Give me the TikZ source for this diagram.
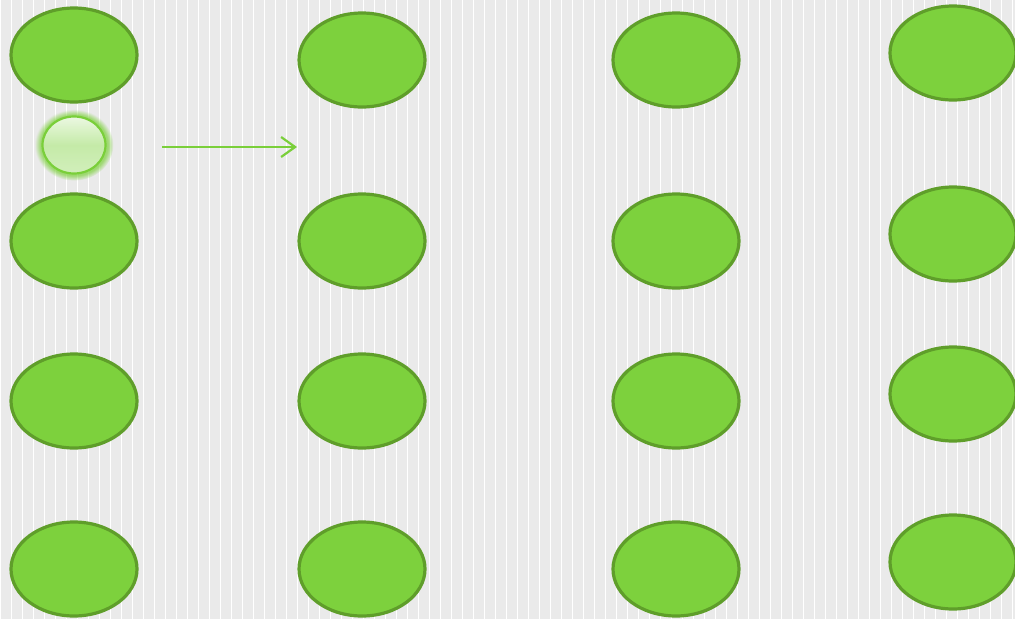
\documentclass[tikz,border=0pt]{standalone}
\usetikzlibrary{shapes.geometric,shadows,arrows.meta}
\definecolor{bggray}{HTML}{EAEAEA}
\definecolor{leaf}{HTML}{7DD13D}
\definecolor{leafdark}{HTML}{5F9E2A}
\definecolor{leaflight}{HTML}{7ACF3A}
\tikzset{
  blob/.style={ellipse,fill=leaf,draw=leafdark,line width=3.2pt,minimum width=126pt,minimum height=94pt,inner sep=0pt},
  bead/.style={ellipse,draw=leaflight,line width=2.2pt,minimum width=63pt,minimum height=57pt,inner sep=0pt,
    top color=leaf!15,bottom color=leaf!35,middle color=leaf!45,
    circular glow={fill=leaf,opacity=0.7}},
  flow/.style={-{Straight Barb[length=14pt,width=20pt,line width=2.2pt]},leaflight,line width=2pt}
}
\begin{document}
\begin{tikzpicture}[x=1pt,y=-1pt]
\useasboundingbox (0,0) rectangle (1015,619);
\clip (0,0) rectangle (1015,619);
\fill[bggray] (0,0) rectangle (1015,619);
\foreach \k in {0,...,92}
  \draw[white,line width=1.6pt] (0.5+11*\k,0) -- (0.5+11*\k,619);
\node[blob] (a1) at (74,55) {};
\node[blob] (a2) at (74,241) {};
\node[blob] (a3) at (74,401) {};
\node[blob] (a4) at (74,569) {};
\node[blob] (b1) at (362,60) {};
\node[blob] (b2) at (362,241) {};
\node[blob] (b3) at (362,401) {};
\node[blob] (b4) at (362,569) {};
\node[blob] (c1) at (676,60) {};
\node[blob] (c2) at (676,241) {};
\node[blob] (c3) at (676,401) {};
\node[blob] (c4) at (676,569) {};
\node[blob] (d1) at (953,53) {};
\node[blob] (d2) at (953,234) {};
\node[blob] (d3) at (953,394) {};
\node[blob] (d4) at (953,562) {};
\node[bead] (seed) at (74,145) {};
\coordinate (from) at (162,147);
\coordinate (to) at (297,147);
\draw[flow] (from) -- (to);
\end{tikzpicture}
\end{document}
